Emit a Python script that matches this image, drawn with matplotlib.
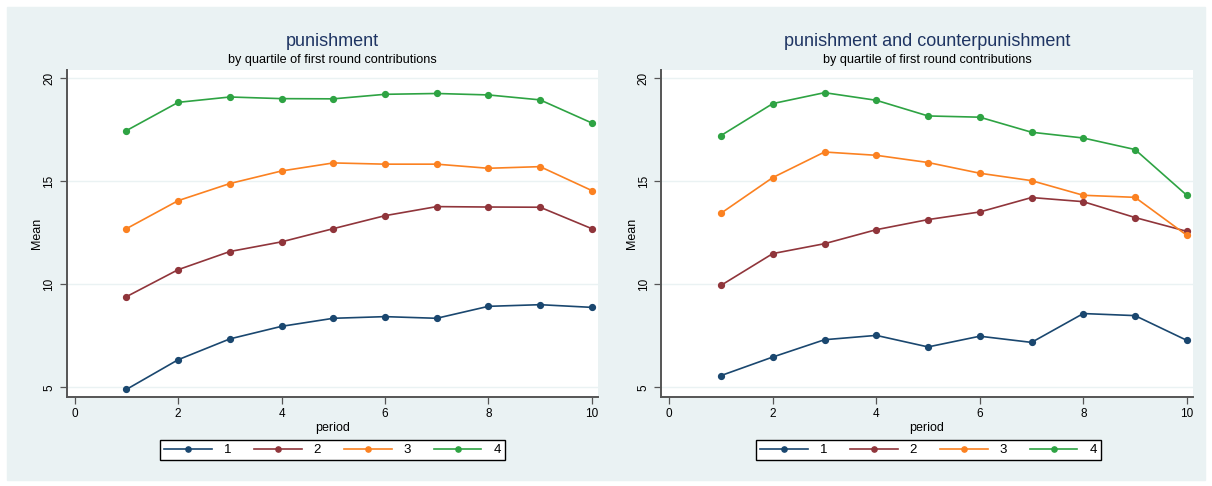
import matplotlib.pyplot as plt
from matplotlib import font_manager

periods = [1, 2, 3, 4, 5, 6, 7, 8, 9, 10]
quartiles = ["1", "2", "3", "4"]

# punishment, mean by quartile
pun_q1 = [4.90, 6.34, 7.35, 7.96, 8.35, 8.43, 8.35, 8.93, 9.01, 8.88]
pun_q2 = [9.40, 10.71, 11.59, 12.06, 12.70, 13.33, 13.77, 13.75, 13.74, 12.70]
pun_q3 = [12.70, 14.06, 14.89, 15.50, 15.89, 15.83, 15.83, 15.63, 15.71, 14.55]
pun_q4 = [17.46, 18.83, 19.09, 19.01, 19.00, 19.22, 19.26, 19.19, 18.95, 17.83]

# punishment and counterpunishment, mean by quartile
cp_q1 = [5.57, 6.47, 7.31, 7.52, 6.96, 7.48, 7.18, 8.58, 8.48, 7.28]
cp_q2 = [9.95, 11.49, 11.97, 12.65, 13.14, 13.51, 14.21, 14.01, 13.24, 12.57]
cp_q3 = [13.45, 15.18, 16.42, 16.26, 15.91, 15.39, 15.03, 14.32, 14.22, 12.38]
cp_q4 = [17.22, 18.77, 19.30, 18.93, 18.17, 18.11, 17.38, 17.10, 16.54, 14.32]

x_ticks = [0, 2, 4, 6, 8, 10]
y_ticks = [5, 10, 15, 20]

COLORS = ["#1a476f", "#90353b", "#fb8121", "#2ea343"]
BG = "#eaf2f3"
TITLE_COLOR = "#1f3563"

FONT = "Liberation Sans"
names = {f.name for f in font_manager.fontManager.ttflist}
NARROW = "Liberation Sans Narrow" if "Liberation Sans Narrow" in names else FONT


def draw_panel(fig, rect, series, title, legend_center):
  ax = fig.add_axes(rect)
  ax.set_facecolor("white")

  for vals, color, label in zip(series, COLORS, quartiles):
    ax.plot(periods, vals, color=color, marker="o", markersize=4.2,
            linewidth=1.2, label=label, zorder=3)

  ax.set_xlim(-0.16, 10.12)
  ax.set_ylim(4.53, 20.4)
  ax.set_xticks(x_ticks)
  ax.set_yticks(y_ticks)
  ax.grid(axis="y", color=BG, linewidth=1.0, zorder=0)

  for side in ["top", "right"]:
    ax.spines[side].set_visible(False)
  for side in ["left", "bottom"]:
    ax.spines[side].set_color("#555555")
    ax.spines[side].set_linewidth(1.4)

  ax.tick_params(direction="out", length=5, width=0.9, color="#555555",
                 labelsize=8.5, pad=3)
  for lab in ax.get_xticklabels():
    lab.set_fontfamily(FONT)
  for lab in ax.get_yticklabels():
    lab.set_fontfamily(FONT)
    lab.set_rotation(90)
    lab.set_va("center")

  ax.set_xlabel("period", fontsize=9, fontfamily=FONT, labelpad=1)
  ax.set_ylabel("Mean", fontsize=9, fontfamily=FONT, labelpad=0)

  cx = rect[0] + rect[2] / 2
  fig.text(cx, 1 - 41 / 486, title, ha="center", va="center",
           fontsize=13, color=TITLE_COLOR, fontfamily=FONT)
  fig.text(cx, 1 - 60 / 486, "by quartile of first round contributions",
           ha="center", va="center", fontsize=9.1, color="black",
           fontfamily=NARROW)

  leg = ax.legend(loc="center", bbox_to_anchor=legend_center,
                  bbox_transform=fig.transFigure, ncol=4, frameon=True,
                  fancybox=False, edgecolor="black", facecolor="white",
                  prop={"family": FONT, "size": 9.5}, handlelength=3.6,
                  handletextpad=0.9, columnspacing=1.75, borderpad=0.3,
                  markerscale=0.9)
  leg.get_frame().set_linewidth(1.0)
  leg.get_frame().set_alpha(1)
  return ax


def main():
  fig = plt.figure(figsize=(12.12, 4.86), dpi=100)
  fig.patch.set_facecolor("white")
  fig.add_artist(plt.Rectangle((7 / 1212, 6 / 486), 1198 / 1212, 473 / 486,
                               transform=fig.transFigure, color=BG, zorder=-10))

  bottom = 1 - 397 / 486
  height = (397 - 70) / 486

  draw_panel(fig, [66.5 / 1212, bottom, (598 - 66.5) / 1212, height],
             [pun_q1, pun_q2, pun_q3, pun_q4], "punishment",
             (332.5 / 1212, 1 - 450 / 486))
  draw_panel(fig, [661 / 1212, bottom, (1193 - 661) / 1212, height],
             [cp_q1, cp_q2, cp_q3, cp_q4], "punishment and counterpunishment",
             (928.5 / 1212, 1 - 450 / 486))

  fig.savefig("out.png", dpi=100, facecolor=fig.get_facecolor())
  plt.close(fig)


if __name__ == "__main__":
  main()
